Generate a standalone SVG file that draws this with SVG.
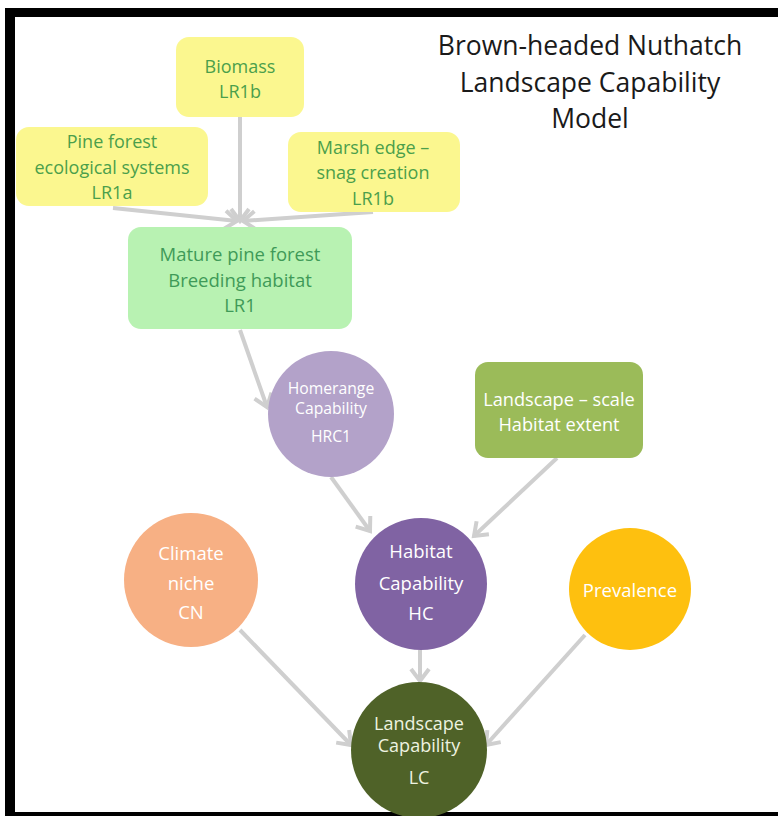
<svg xmlns="http://www.w3.org/2000/svg" width="778" height="816" viewBox="0 0 778 816">
<style>
.t{font-family:"Open Sans","Noto Sans","Liberation Sans",sans-serif;text-anchor:middle;dominant-baseline:central}
.g{fill:#4b9f4b;font-size:18px}
.m{fill:#3f9a58;font-size:18.5px}
.w{fill:#ffffff;font-size:18.5px}
.title{fill:#1a1a1a;font-size:26.5px}
.c{stroke:#cfcfcf;stroke-width:4;fill:none;marker-end:url(#ah)}
</style>
<defs>
<marker id="ah" markerUnits="userSpaceOnUse" markerWidth="30" markerHeight="30" refX="0" refY="0" viewBox="-15 -15 30 30" orient="auto">
<path d="M-12,-9 L0,0 L-12,9" fill="none" stroke="#cfcfcf" stroke-width="4"/>
</marker>
</defs>
<rect x="0" y="0" width="778" height="816" fill="#ffffff"/>
<rect x="5" y="8" width="773" height="9" fill="#000"/>
<rect x="5" y="8" width="10" height="808" fill="#000"/>
<rect x="5" y="812" width="773" height="4" fill="#000"/>

<g id="connectors">
<line class="c" x1="240" y1="117" x2="240" y2="221"/>
<line class="c" x1="113" y1="208" x2="237" y2="221"/>
<line class="c" x1="373" y1="212" x2="243" y2="221"/>
<line class="c" x1="240" y1="330" x2="267" y2="407"/>
<line class="c" x1="331" y1="477" x2="370" y2="531"/>
<line class="c" x1="557" y1="458" x2="474" y2="536"/>
<line class="c" x1="420" y1="650" x2="420" y2="681"/>
<line class="c" x1="240" y1="630" x2="351" y2="745"/>
<line class="c" x1="585" y1="635" x2="486" y2="745"/>
</g>

<g id="title">
<text class="t title" x="590" y="45">Brown-headed Nuthatch</text>
<text class="t title" x="590" y="82">Landscape Capability</text>
<text class="t title" x="590" y="118">Model</text>
</g>

<g id="biomass">
<rect x="176" y="37" width="128" height="80" rx="13" fill="#fbf78f"/>
<text class="t g" x="240" y="66">Biomass</text>
<text class="t g" x="240" y="91">LR1b</text>
</g>

<g id="pine">
<rect x="16" y="127" width="192" height="79" rx="13" fill="#fbf78f"/>
<text class="t g" x="112" y="141">Pine forest</text>
<text class="t g" x="112" y="167">ecological systems</text>
<text class="t g" x="112" y="192">LR1a</text>
</g>

<g id="marsh">
<rect x="288" y="132" width="172" height="80" rx="13" fill="#fbf78f"/>
<text class="t g" x="373" y="147">Marsh edge –</text>
<text class="t g" x="373" y="172">snag creation</text>
<text class="t g" x="373" y="198">LR1b</text>
</g>

<g id="mature">
<rect x="128" y="227" width="224" height="102" rx="13" fill="#b8f2b2"/>
<text class="t m" x="240" y="253">Mature pine forest</text>
<text class="t m" x="240" y="279">Breeding habitat</text>
<text class="t m" x="240" y="304">LR1</text>
</g>

<g id="hrc1">
<circle cx="331" cy="414" r="63" fill="#b3a2c9"/>
<text class="t w" x="331" y="388" style="font-size:15.7px">Homerange</text>
<text class="t w" x="331" y="408" style="font-size:15.7px">Capability</text>
<text class="t w" x="331" y="436" style="font-size:15.7px">HRC1</text>
</g>

<g id="extent">
<rect x="475" y="362" width="168" height="96" rx="13" fill="#9bbb59"/>
<text class="t w" x="559" y="399" style="font-size:18.2px">Landscape – scale</text>
<text class="t w" x="559" y="424" style="font-size:18.2px">Habitat extent</text>
</g>

<g id="cn">
<circle cx="191" cy="580" r="67" fill="#f7b084"/>
<text class="t w" x="191" y="552">Climate</text>
<text class="t w" x="191" y="582">niche</text>
<text class="t w" x="191" y="611">CN</text>
</g>

<g id="hc">
<circle cx="421" cy="584" r="66" fill="#8063a3"/>
<text class="t w" x="421" y="550">Habitat</text>
<text class="t w" x="421" y="582">Capability</text>
<text class="t w" x="421" y="612">HC</text>
</g>

<g id="prev">
<circle cx="630" cy="589" r="61" fill="#fec00f"/>
<text class="t w" x="630" y="589">Prevalence</text>
</g>

<g id="lc">
<circle cx="419" cy="750" r="68" fill="#4f6228"/>
<text class="t" x="419" y="723" style="font-size:18px;fill:#eef3e0">Landscape</text>
<text class="t" x="419" y="745" style="font-size:18px;fill:#eef3e0">Capability</text>
<text class="t" x="419" y="777" style="font-size:18px;fill:#eef3e0">LC</text>
</g>
</svg>
